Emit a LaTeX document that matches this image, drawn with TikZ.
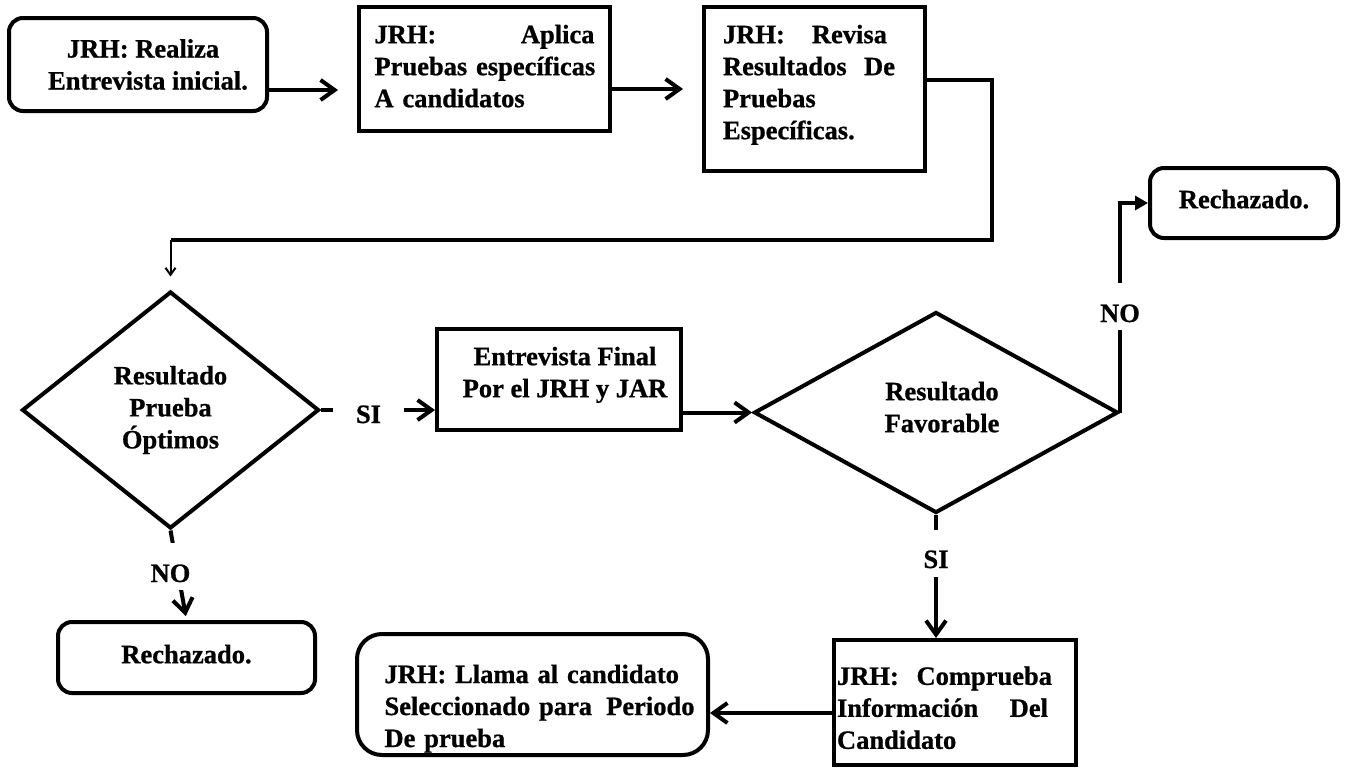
\documentclass[tikz,border=0pt]{standalone}
\usepackage{fontspec}
\setmainfont{Liberation Serif}[BoldFeatures={FakeBold=0.8}]
\usetikzlibrary{shapes.geometric,arrows.meta}
\newcommand\jline[2]{\leavevmode\hbox to #1{#2}}
\begin{document}
\begin{tikzpicture}[x=1pt,y=-1pt,
  every node/.style={font=\fontsize{26.5}{32}\selectfont\bfseries},
  box/.style={draw, line width=4pt, inner sep=0pt},
  rbox/.style={box, rounded corners=14pt},
  dia/.style={draw, diamond, line width=4pt, inner sep=0pt, align=center},
  conn/.style={line width=4pt},
  arr/.style={line width=4pt, -{Straight Barb[length=14pt,width=20pt]}},
  thinarr/.style={line width=2pt, -{Straight Barb[length=7pt,width=10pt]}},
  triarr/.style={line width=4pt, -{Triangle[length=13pt,width=14pt]}},
  lbl/.style={fill=white, inner sep=0pt}
]
\fill[white] (0,0) rectangle (1347,771);
\useasboundingbox (0,0) rectangle (1347,771);

\node[rbox, minimum width=258pt, minimum height=93pt, align=center] (b1) at (138,64.5)
  {\hspace*{10pt}JRH: Realiza\\\hspace*{20pt}Entrevista inicial.};
\node[box, minimum width=251pt, minimum height=124pt, text width=220pt, inner xsep=15.5pt, align=left] (b2) at (484.5,69)
  {\jline{220pt}{JRH:\hfill Aplica}\\\jline{220pt}{Pruebas específicas}\\A candidatos\rule[-6pt]{0pt}{1pt}};
\node[box, minimum width=221pt, minimum height=164pt, text width=183pt, inner xsep=19pt, align=left] (b3) at (814.5,89)
  {\jline{164pt}{JRH:\hfill Revisa}\\\jline{172pt}{Resultados\hfill De}\\Pruebas\\Específicas.\rule[-14pt]{0pt}{1pt}};
\node[dia, aspect=1.25, minimum width=297pt, minimum height=237pt] (d1) at (170.5,410)
  {Resultado\\Prueba\\Óptimos};
\node[box, minimum width=244pt, minimum height=101pt, align=center] (ef) at (559,379.5)
  {\hspace*{12pt}Entrevista Final\\\hspace*{12pt}Por el JRH y JAR\rule[-15pt]{0pt}{1pt}};
\node[dia, aspect=1.8, minimum width=364pt, minimum height=201pt] (d2) at (936,412.5)
  {\hspace*{12pt}Resultado\\\hspace*{12pt}Favorable\rule[-11pt]{0pt}{1pt}};
\node[rbox, minimum width=188pt, minimum height=70pt] (rj1) at (1244,203)
  {Rechazado.\rule[-8pt]{0pt}{1pt}};
\node[rbox, minimum width=257pt, minimum height=71pt] (rj2) at (186.5,657.5)
  {Rechazado.\rule[-7pt]{0pt}{1pt}};
\node[box, minimum width=242pt, minimum height=125pt, text width=236pt, inner xsep=3pt, align=left] (cb) at (955,702.5)
  {\rule{0pt}{29pt}\jline{215pt}{JRH:\hfill Comprueba}\\\jline{211pt}{Información\hfill Del}\\Candidato};
\node[box, rounded corners=25pt, minimum width=351pt, minimum height=121pt, text width=324pt, inner xsep=0pt, align=left] (fb) at (532.5,694.5)
  {\rule{0pt}{46.7pt}\hspace*{14pt}JRH: Llama al candidato\\\hspace*{14pt}\jline{310pt}{Seleccionado para\hfill Periodo}\\\hspace*{14pt}De prueba};

\draw[arr, shorten >=19pt] (b1.east|-0,90) -- (b2.west|-0,90);
\draw[arr, shorten >=19pt] (b2.east|-0,89) -- (b3.west|-0,89);
\coordinate (k1) at (992,80);
\coordinate (k2) at (992,240);
\draw[conn] (b3.east|-k1) -- (k1) -- (k2) -- (k2-|d1.north);
\draw[thinarr, shorten >=13pt] (k2-|d1.north) -- (d1.north);
\draw[arr] (d1.east) -- (ef.west|-d1.east);
\draw[arr] (ef.east|-d2.west) -- (d2.west);
\draw[triarr] (d2.east) |- (rj1.west);
\draw[arr, shorten >=4pt] (d1.south) -- (rj2.north);
\draw[arr] (d2.south) -- (d2.south|-cb.north);
\draw[arr] (cb.west|-0,713) -- (fb.east|-0,713);

\node[lbl, minimum width=71pt, text height=25pt, text depth=3pt] (si1) at (368.5,412) {SI};
\node[lbl, text height=39pt, text depth=8pt] (no1) at (d2.east|-0,306.5) {NO};
\node[lbl, text height=39pt, text depth=8pt] (no2) at (d1.south|-0,566.5) {NO};
\node[lbl, text height=38pt, text depth=9pt] (si2) at (d2.south|-0,553.5) {SI};
\end{tikzpicture}
\end{document}
